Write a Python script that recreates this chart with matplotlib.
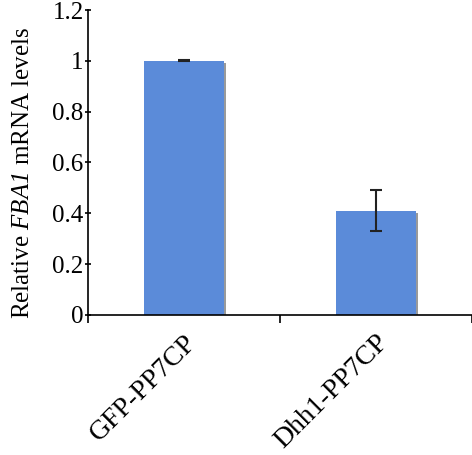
import matplotlib.pyplot as plt
from matplotlib.ticker import FixedLocator
from matplotlib.transforms import ScaledTranslation

plt.rcParams['font.family'] = 'Liberation Serif'
plt.rcParams['mathtext.fontset'] = 'custom'
# only the gene name goes through mathtext, so make it all italic
plt.rcParams['mathtext.rm'] = 'Liberation Serif:italic'
plt.rcParams['mathtext.it'] = 'Liberation Serif:italic'

strains = ['GFP-PP7CP', 'Dhh1-PP7CP']
levels = [1.0, 0.41]
errors = [0.002, 0.08]
yticks = [0, 0.2, 0.4, 0.6, 0.8, 1, 1.2]
ytick_labels = ['0', '0.2', '0.4', '0.6', '0.8', '1', '1.2']

fig = plt.figure(figsize=(4.72, 4.55), dpi=100)
ax = fig.add_axes([0.186, 0.308, 0.814, 0.67])

x = range(len(strains))
# soft grey shadow to the right of each bar
ax.bar([i + 0.012 for i in x], [v - 0.01 for v in levels], width=0.415,
       color='#9a9a9a', zorder=1)
ax.bar(x, levels, width=0.415, color='#5b8bd9', zorder=2)
ax.errorbar(x, levels, yerr=errors, fmt='none', ecolor='#222222',
            elinewidth=1.5, capsize=4, capthick=1.5, zorder=3)

ax.set_xlim(-0.5, 1.5)
ax.set_ylim(0, 1.2)
ax.set_yticks(yticks)
ax.set_yticklabels(ytick_labels, fontsize=18)
ax.set_xticks(list(x))
ax.set_xticklabels(strains, rotation=45, ha='right', rotation_mode='anchor',
                   fontsize=20)
shift = ScaledTranslation(12 / 72, 0, fig.dpi_scale_trans)
for lbl in ax.get_xticklabels():
    lbl.set_transform(lbl.get_transform() + shift)
ax.tick_params(axis='x', which='major', length=0, pad=11)
ax.xaxis.set_minor_locator(FixedLocator([-0.5, 0.5, 1.5]))
ax.tick_params(axis='x', which='minor', length=6, width=1.2, direction='out')
ax.tick_params(axis='y', length=4, width=1.2, direction='inout', pad=1)

ax.spines['top'].set_visible(False)
ax.spines['right'].set_visible(False)
ax.spines['left'].set_linewidth(1.2)
ax.spines['bottom'].set_linewidth(1.2)

ax.set_ylabel(r'Relative $FBA1$ mRNA levels', fontsize=18)
ax.yaxis.set_label_coords(-0.14, 0.465)

fig.savefig('out.png', dpi=100)
